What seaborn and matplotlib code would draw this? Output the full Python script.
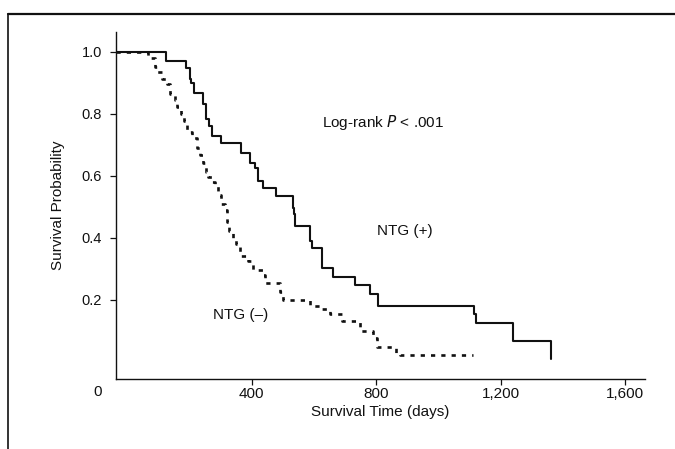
import matplotlib
matplotlib.use("Agg")
import matplotlib.pyplot as plt
import seaborn as sns
import pandas as pd
from matplotlib.lines import Line2D

# ---- data ----
x_min, x_max = -35, 1663
y_min, y_max = -0.056, 1.063

pos_time = [x_min, 125, 189, 202, 206, 215, 244, 254, 263, 273, 302, 366, 395, 411,
            420, 437, 478, 533, 536, 539, 587, 594, 626, 661, 732, 780, 806, 1114,
            1120, 1239, 1361]
pos_surv = [1.0, 0.968, 0.948, 0.913, 0.897, 0.865, 0.83, 0.784, 0.761, 0.729, 0.706,
            0.672, 0.64, 0.623, 0.584, 0.561, 0.535, 0.497, 0.475, 0.439, 0.39, 0.365,
            0.303, 0.274, 0.248, 0.219, 0.181, 0.155, 0.126, 0.068, 0.01]

neg_time = [x_min, 67, 90, 96, 112, 128, 138, 154, 160, 173, 183, 193, 209, 225, 234,
            244, 254, 260, 273, 283, 292, 302, 315, 321, 327, 340, 350, 363, 388, 404,
            437, 443, 491, 501, 587, 626, 652, 690, 748, 790, 803, 864, 876, 1111]
neg_surv = [1.0, 0.98, 0.95, 0.934, 0.913, 0.895, 0.863, 0.845, 0.82, 0.8, 0.775, 0.74,
            0.722, 0.69, 0.665, 0.64, 0.613, 0.594, 0.58, 0.566, 0.538, 0.508, 0.49,
            0.45, 0.42, 0.4, 0.38, 0.34, 0.325, 0.295, 0.28, 0.255, 0.225, 0.2, 0.18,
            0.17, 0.155, 0.13, 0.1, 0.075, 0.047, 0.027, 0.02, 0.02]

x_ticks = [400, 800, 1200, 1600]
x_tick_labels = ["400", "800", "1,200", "1,600"]
y_ticks = [0.2, 0.4, 0.6, 0.8, 1.0]
y_tick_labels = ["0.2", "0.4", "0.6", "0.8", "1.0"]

sns.set_theme(style="white")
plt.rcParams['font.family'] = ['Liberation Sans', 'DejaVu Sans']

W, H = 675, 449
fig = plt.figure(figsize=(W / 100, H / 100), dpi=100)
ax = fig.add_axes([116 / W, (H - 379) / H, (645 - 116) / W, (379 - 32) / H])

ink = "#111111"
df_pos = pd.DataFrame({"t": pos_time, "s": pos_surv})
df_neg = pd.DataFrame({"t": neg_time, "s": neg_surv})
sns.lineplot(data=df_pos, x="t", y="s", ax=ax, estimator=None, sort=False,
             drawstyle="steps-post", color=ink, lw=1.5)
sns.lineplot(data=df_neg, x="t", y="s", ax=ax, estimator=None, sort=False,
             drawstyle="steps-post", color=ink, lw=1.9, linestyle=(0, (1.6, 2.3)))

ax.set_xlim(x_min, x_max)
ax.set_ylim(y_min, y_max)
ax.set_xticks(x_ticks)
ax.set_xticklabels(x_tick_labels)
ax.set_yticks(y_ticks)
ax.set_yticklabels(y_tick_labels)
ax.tick_params(axis="both", direction="out", length=4, width=0.9, colors=ink,
               bottom=True, left=True)
ax.tick_params(axis="x", labelsize=11, pad=1.5)
ax.tick_params(axis="y", labelsize=10.5, pad=6)
for side in ["top", "right"]:
    ax.spines[side].set_visible(False)
for side in ["left", "bottom"]:
    ax.spines[side].set_color(ink)
    ax.spines[side].set_linewidth(1.0)

ax.set_xlabel("Survival Time (days)", fontsize=11, color=ink, labelpad=3)
ax.set_ylabel("Survival Probability", fontsize=11, color=ink, labelpad=12)

# origin label "0" sits left of the y axis
ax.annotate("0", xy=(0, 0), xycoords="axes fraction", xytext=(-18, -6),
            textcoords="offset pixels", ha="center", va="top", fontsize=11, color=ink)

ax.text(822, 0.77, "Log-rank $\\it{P}$ < .001", ha="center", va="center",
        fontsize=11, color=ink)
ax.text(893, 0.42, "NTG (+)", ha="center", va="center", fontsize=11, color=ink)
ax.text(366, 0.15, "NTG (\u2013)", ha="center", va="center", fontsize=11, color=ink)

# outer frame of the scanned figure
fig.add_artist(Line2D([8 / W, 1.0], [1 - 14 / H, 1 - 14 / H], transform=fig.transFigure,
                      color=ink, lw=1.6))
fig.add_artist(Line2D([8 / W, 8 / W], [0.0, 1 - 14 / H], transform=fig.transFigure,
                      color=ink, lw=1.2))

fig.savefig("out.png", dpi=100, facecolor="white")
